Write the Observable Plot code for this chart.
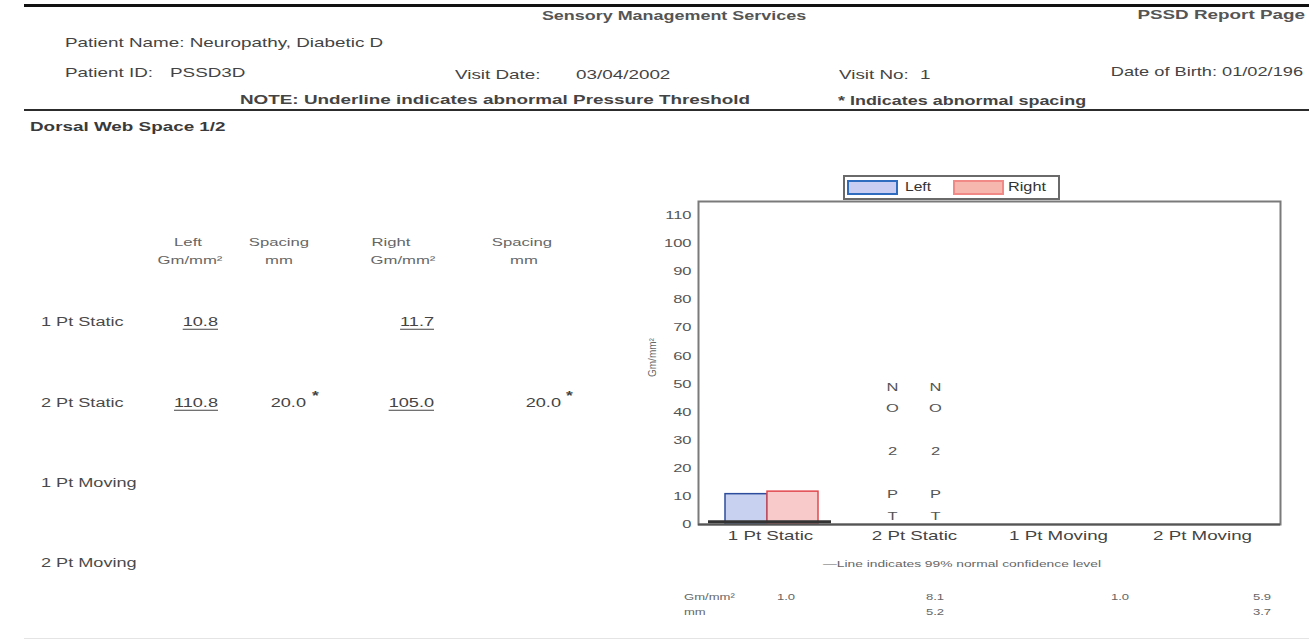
<!DOCTYPE html>
<html><head><meta charset="utf-8">
<script src="https://cdn.jsdelivr.net/npm/d3@7"></script>
<script src="https://cdn.jsdelivr.net/npm/@observablehq/plot@0.6"></script>
<style>
body{margin:0;background:#fff;}
#page{position:relative;width:1309px;height:643px;overflow:hidden;font-family:"Liberation Sans",Arial,sans-serif;color:#3c3c3c;background:#fff;}
.t{position:absolute;white-space:nowrap;line-height:1;}
.hr{position:absolute;}
#chart{position:absolute;left:630px;top:190px;}
#legend{position:absolute;left:843px;top:175px;width:213px;height:21px;border:2px solid #6a6a6a;background:#fff;}
.sw{position:absolute;top:3px;width:47px;height:11px;}
</style></head><body><div id="page"></div>
<script>
// ---------- data ----------
const categories = ["1 Pt Static", "2 Pt Static", "1 Pt Moving", "2 Pt Moving"];
const leftPressure = [10.8, 110.8, null, null];
const leftSpacing = [null, 20.0, null, null];
const rightPressure = [11.7, 105.0, null, null];
const rightSpacing = [null, 20.0, null, null];
const leftPressureAbnormal = [true, true, false, false];
const rightPressureAbnormal = [true, true, false, false];
const leftSpacingAbnormal = [false, true, false, false];
const rightSpacingAbnormal = [false, true, false, false];
const charted = [true, false, false, false];
const chartNote = [null, "NO 2 PT", null, null];
const normalPressure = [1.0, 8.1, 1.0, 5.9];
const normalSpacing = [null, 5.2, null, 3.7];
const sides = ["Left", "Right"];
const yTicks = [0, 10, 20, 30, 40, 50, 60, 70, 80, 90, 100, 110];

// ---------- layout helpers ----------
const STRETCH = 1.45;
const page = document.getElementById("page");
function put(txt, x, y, o = {}) {
  const s = document.createElement("div");
  s.className = "t";
  s.textContent = txt;
  s.style.left = x + "px";
  s.style.top = y + "px";
  s.style.fontSize = (o.size || 13) + "px";
  s.style.fontWeight = o.weight || 400;
  s.style.color = o.color || "#3c3c3c";
  if (o.underline) { s.style.textDecoration = "underline"; s.style.textUnderlineOffset = "3px"; }
  const tx = o.align === "center" ? "-50%" : o.align === "right" ? "-100%" : "0";
  const ox = o.align === "center" ? "50%" : o.align === "right" ? "100%" : "0";
  s.style.transformOrigin = `${ox} 50%`;
  s.style.transform = `translate(${tx},-50%) scaleX(${o.sx || STRETCH})`;
  page.appendChild(s);
  return s;
}
function line(x, y, w, h, c) {
  const d = document.createElement("div");
  d.className = "hr";
  Object.assign(d.style, {left: x + "px", top: y + "px", width: w + "px", height: h + "px", background: c});
  page.appendChild(d);
}

// ---------- header ----------
const H1 = {size: 13, color: "#444"};
line(24, 4, 1285, 3, "#111");
put("Sensory Management Services", 674, 15, {size: 13, weight: 700, align: "center", color: "#555", sx: 1.38});
put("PSSD Report Page", 1305, 14, {size: 13, weight: 700, align: "right", color: "#555"});
put("Patient Name: Neuropathy, Diabetic D", 65, 42, H1);
put("Patient ID:", 65, 72, H1);
put("PSSD3D", 170, 72, H1);
put("Visit Date:", 455, 74, H1);
put("03/04/2002", 576, 74, H1);
put("Visit No:", 839, 74, H1);
put("1", 920, 74, H1);
put("Date of Birth: 01/02/196", 1303, 71, {size: 13, color: "#444", align: "right", sx: 1.4});
put("NOTE:  Underline indicates abnormal Pressure Threshold", 240, 99, {size: 13, weight: 700, color: "#444"});
put("* Indicates abnormal spacing", 838, 100, {size: 13, weight: 700, color: "#444", sx: 1.38});
line(24, 109, 1285, 2, "#2c2c2c");
put("Dorsal Web Space 1/2", 30, 126, {size: 13, weight: 700, color: "#3a3a3a"});

// ---------- left table ----------
const hdr = {size: 11.5, color: "#666", align: "center"};
put("Left", 188, 243, hdr); put("Gm/mm²", 190, 261, hdr);
put("Spacing", 279, 243, hdr); put("mm", 279, 261, hdr);
put("Right", 391, 243, hdr); put("Gm/mm²", 403, 261, hdr);
put("Spacing", 522, 243, hdr); put("mm", 524, 261, hdr);
const rowY = [322, 403, 483, 563];
const cell = {size: 12.5, color: "#444", align: "right"};
categories.forEach((c, i) => {
  const y = rowY[i];
  put(c, 41, y, {size: 12.5, color: "#4a4a4a"});
  if (leftPressure[i] != null) put(leftPressure[i].toFixed(1), 218, y, {...cell, underline: leftPressureAbnormal[i]});
  if (rightPressure[i] != null) put(rightPressure[i].toFixed(1), 434, y, {...cell, underline: rightPressureAbnormal[i]});
  if (leftSpacing[i] != null) {
    put(leftSpacing[i].toFixed(1), 306, y, cell);
    if (leftSpacingAbnormal[i]) put("*", 312, y - 7, {size: 12, weight: 700, color: "#444"});
  }
  if (rightSpacing[i] != null) {
    put(rightSpacing[i].toFixed(1), 561, y, cell);
    if (rightSpacingAbnormal[i]) put("*", 566, y - 7, {size: 12, weight: 700, color: "#444"});
  }
});

// ---------- legend ----------
const lg = document.createElement("div");
lg.id = "legend";
lg.innerHTML = `<div class="sw" style="left:2px;background:#c9cdf1;border:2px solid #2f6cc0"></div>
<div class="t" style="left:60px;top:3px;font-size:13px;color:#333;transform-origin:0 50%;transform:scaleX(1.2)">${sides[0]}</div>
<div class="sw" style="left:108px;background:#f6b7ae;border:2px solid #f18a86"></div>
<div class="t" style="left:163px;top:3px;font-size:13px;color:#333;transform-origin:0 50%;transform:scaleX(1.25)">${sides[1]}</div>`;
page.appendChild(lg);

// ---------- chart ----------
const bars = [];
categories.forEach((c, i) => {
  if (!charted[i]) return;
  bars.push({cat: c, side: sides[0], value: leftPressure[i]});
  bars.push({cat: c, side: sides[1], value: rightPressure[i]});
});
const notes = [];
categories.forEach((c, i) => { if (chartNote[i]) notes.push({cat: c, text: chartNote[i].split("").join("\n")}); });
const levels = categories.map((c, i) => ({cat: c, level: normalPressure[i]})).filter((d, i) => charted[i]);

const W = 660, H = 360, ML = 68, MT = 11, MB = 26, MR = 10;
const chart = Plot.plot({
  width: W, height: H,
  marginLeft: ML, marginTop: MT, marginBottom: MB, marginRight: MR,
  style: {fontFamily: "Liberation Sans, Arial, sans-serif", background: "transparent"},
  x: {domain: categories, range: [ML, ML + 576], padding: 0, label: null},
  y: {domain: [0, 115], label: null},
  marks: [
    Plot.barY(bars.filter(d => d.side === "Left"), {x: "cat", y: "value", fill: "#c8d2f0", stroke: "#2d4c9c", strokeWidth: 1.5, insetLeft: 27, insetRight: 75}),
    Plot.barY(bars.filter(d => d.side === "Right"), {x: "cat", y: "value", fill: "#f8caca", stroke: "#e0484e", strokeWidth: 1.5, insetLeft: 69, insetRight: 24}),
    Plot.text(notes, {x: "cat", y: () => 0, text: "text", dx: -22, dy: -5, lineAnchor: "bottom", lineHeight: 1.95, fontSize: 11, fill: "#555"}),
    Plot.text(notes, {x: "cat", y: () => 0, text: "text", dx: 21, dy: -5, lineAnchor: "bottom", lineHeight: 1.95, fontSize: 11, fill: "#555"}),
    Plot.frame({stroke: "#7a7a7a", strokeWidth: 2}),
    Plot.ruleY([0], {stroke: "#555", strokeWidth: 2}),
    Plot.tickY(levels, {x: "cat", y: "level", stroke: "#333", strokeWidth: 3, insetLeft: 10, insetRight: 11}),
    Plot.axisY(yTicks, {tickSize: 0, tickPadding: 7, fontSize: 11, fill: "#555", label: null}),
    Plot.axisX({tickSize: 0, tickPadding: 7, fontSize: 12.5, fill: "#444", label: null}),
    Plot.text(["Gm/mm²"], {frameAnchor: "left", rotate: -90, dx: -46, dy: 14, fontSize: 10, fill: "#666"})
  ]
});
chart.id = "chart";
// horizontal stretch of the chart's upright texts, as in the reference
d3.select(chart).selectAll("text").each(function () {
  const t = this.getAttribute("transform") || "";
  if (t.includes("rotate")) return;
  if (t) this.setAttribute("transform", t + " scale(1.5,1)");
  else {
    const x = +this.getAttribute("x") || 0, y = +this.getAttribute("y") || 0;
    this.setAttribute("x", 0); this.setAttribute("y", 0);
    this.setAttribute("transform", `translate(${x},${y}) scale(1.5,1)`);
  }
});
page.appendChild(chart);

// ---------- footnote & normal values ----------
put("—Line indicates 99% normal confidence level", 962, 564, {size: 9.5, color: "#666", align: "center"});
put("Gm/mm²", 684, 597, {size: 9, color: "#666"});
put("mm", 684, 612, {size: 9, color: "#666"});
const normX = [786, 935, 1120, 1262];
categories.forEach((c, i) => {
  if (normalPressure[i] != null) put(normalPressure[i].toFixed(1), normX[i], 597, {size: 9, color: "#666", align: "center"});
  if (normalSpacing[i] != null) put(normalSpacing[i].toFixed(1), normX[i], 612, {size: 9, color: "#666", align: "center"});
});
line(24, 638, 1285, 1, "#e4e4e4");
</script></body></html>
